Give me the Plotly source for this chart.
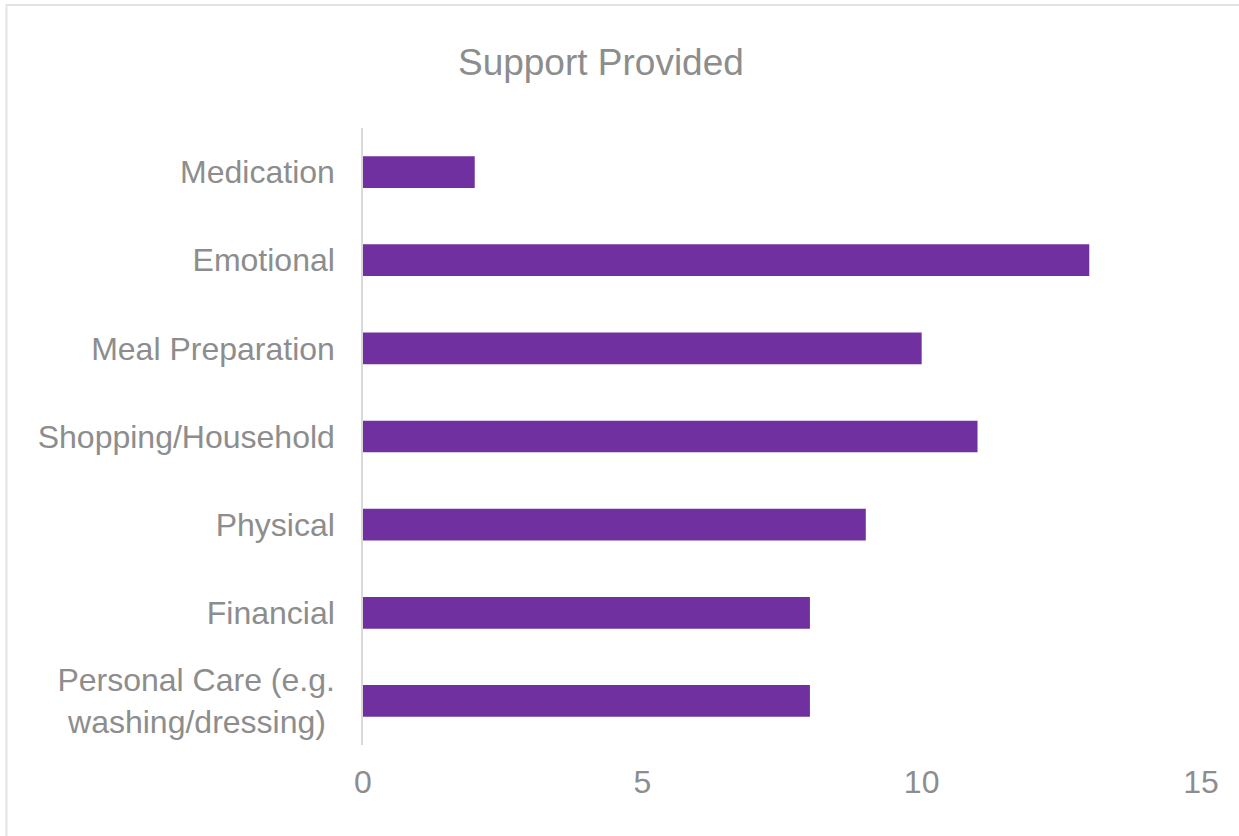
import plotly.graph_objects as go

categories = ["Medication", "Emotional", "Meal Preparation", "Shopping/Household",
              "Physical", "Financial", "Personal Care (e.g.<br>washing/dressing)\u00a0"]
values = [2, 13, 10, 11, 9, 8, 8]
x_ticks = [0, 5, 10, 15]

GRAY = "#8d8d8d"
fig = go.Figure(go.Bar(
    y=categories, x=values, orientation="h",
    marker=dict(color="#7030A0", line=dict(width=0)),
))

fig.update_layout(
    width=1239, height=836,
    margin=dict(l=363, r=38, t=128, b=91),
    paper_bgcolor="white", plot_bgcolor="white",
    bargap=0.64,
    showlegend=False,
    font=dict(family="Liberation Sans, Arial, sans-serif", color=GRAY, size=32),
    title=dict(text="Support Provided", x=0.485, xref="container", xanchor="center",
               y=1 - 62 / 836, yref="container", yanchor="middle",
               font=dict(size=37, color=GRAY)),
    xaxis=dict(range=[0, 15], tickvals=x_ticks, showgrid=False, zeroline=False,
               showline=False, ticks="", ticklabelstandoff=15,
               tickfont=dict(size=32, color=GRAY)),
    yaxis=dict(autorange="reversed", showgrid=False, zeroline=False,
               showline=True, linecolor="#d9d9d9", linewidth=1.5, ticks="",
               ticklabelstandoff=20, tickfont=dict(size=32, color=GRAY)),
    shapes=[dict(type="rect", xref="paper", yref="paper",
                 x0=(6.5 - 363) / 838, x1=(1250 - 363) / 838,
                 y0=(745 - 850) / 617, y1=(745 - 5) / 617,
                 line=dict(color="#e3e3e3", width=2), fillcolor="rgba(0,0,0,0)",
                 layer="below")],
)

fig.write_html("out.html", config={"displayModeBar": False},
               post_script="document.body.style.margin='0';document.body.style.overflow='hidden';")
